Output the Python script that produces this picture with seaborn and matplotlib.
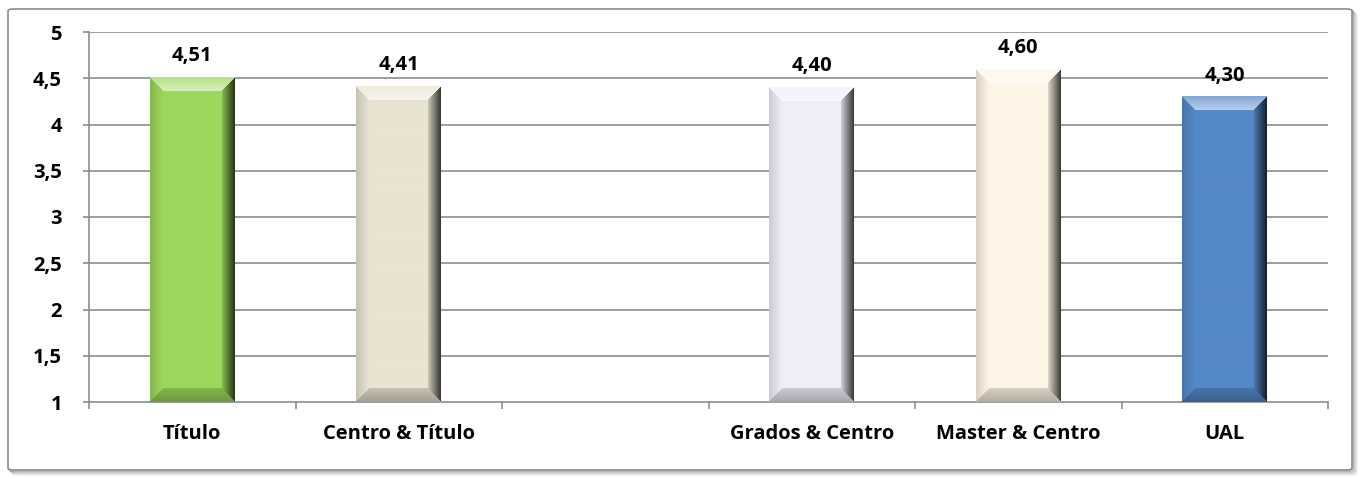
import numpy as np
import pandas as pd
import matplotlib
matplotlib.use("Agg")
import matplotlib.pyplot as plt
from matplotlib import font_manager as fm
from matplotlib.colors import to_rgb
from matplotlib.patches import FancyBboxPatch
import seaborn as sns

# Survey means by comparison group (third slot intentionally left blank)
categories = ["Título", "Centro & Título", " ", "Grados & Centro", "Master & Centro", "UAL"]
values = [4.51, 4.41, np.nan, 4.40, 4.60, 4.30]
bar_colors = ["#9BD75A", "#E8E4D1", "#EEEAE0", "#F1EDF8", "#FFF5E6", "#5588C8"]
y_ticks = [1, 1.5, 2, 2.5, 3, 3.5, 4, 4.5, 5]

sns.set_theme(style="white")
plt.rcParams["font.family"] = ["Open Sans", "DejaVu Sans"]

TXT = 14.5
FP = fm.FontProperties(family=["Open Sans", "DejaVu Sans"], weight="bold", size=TXT)

W_PX, H_PX, DPI = 1363, 479, 100
fig = plt.figure(figsize=(W_PX / DPI, H_PX / DPI), dpi=DPI)
fig.patch.set_facecolor("white")

# Outer chart frame with a soft drop shadow
for i, a in enumerate([0.05, 0.08, 0.12, 0.18, 0.25]):
    off = (5 - i) / W_PX
    offy = (5 - i) / H_PX
    fig.patches.append(FancyBboxPatch((8 / W_PX + off, 9 / H_PX - offy),
                                      1344 / W_PX, 461 / H_PX,
                                      boxstyle="round,pad=0,rounding_size=0.004",
                                      transform=fig.transFigure, facecolor="none",
                                      edgecolor=(0.3, 0.3, 0.3, a), linewidth=1.6,
                                      zorder=-3))
fig.patches.append(FancyBboxPatch((8 / W_PX, 9 / H_PX), 1344 / W_PX, 461 / H_PX,
                                  boxstyle="round,pad=0,rounding_size=0.004",
                                  transform=fig.transFigure, facecolor="white",
                                  edgecolor="#8C8C8C", linewidth=1.2, zorder=-2))

ax = fig.add_axes([89 / W_PX, 1 - 402 / H_PX, (1328 - 89) / W_PX, (402 - 32) / H_PX])
ax.set_facecolor("none")

df = pd.DataFrame({"cat": categories, "val": values})
sns.barplot(data=df, x="cat", y="val", hue="cat", palette=bar_colors, legend=False,
            width=0.41, ax=ax, zorder=2, saturation=1, edgecolor="none")

ax.set_ylim(1, 5)
ax.set_xlim(-0.5, len(categories) - 0.5)
ax.set_yticks(y_ticks)
ax.set_yticklabels([f"{t:g}".replace(".", ",") for t in y_ticks])
ax.set_xlabel("")
ax.set_ylabel("")

grid_c = "#8C8C8C"
for t in y_ticks[1:]:
    ax.axhline(t, color=grid_c, lw=1.2, zorder=1)

for side in ["top", "right"]:
    ax.spines[side].set_visible(False)
for side in ["left", "bottom"]:
    ax.spines[side].set_color(grid_c)
    ax.spines[side].set_linewidth(1.2)

ax.tick_params(axis="y", which="major", direction="out", length=4.5, width=1.2,
               color=grid_c, pad=15, left=True)
ax.tick_params(axis="x", which="major", length=0, pad=15.5)
ax.set_xticks(np.arange(-0.5, len(categories), 1.0), minor=True)
ax.tick_params(axis="x", which="minor", direction="out", length=5, width=1.2,
               color=grid_c, bottom=True)
for lab in ax.get_xticklabels() + ax.get_yticklabels():
    lab.set_fontproperties(FP)
    lab.set_color("black")

# Bevelled shading drawn over each bar
fig.canvas.draw()
px_per_x = ax.transData.transform((1, 0))[0] - ax.transData.transform((0, 0))[0]
px_per_y = ax.transData.transform((0, 1))[1] - ax.transData.transform((0, 0))[1]


def bevel_image(color, wpx, hpx, bx=13, by=14):
    base = np.array(to_rgb(color))
    u = (np.arange(wpx) + 0.5)[None, :].repeat(hpx, 0)
    v = (np.arange(hpx) + 0.5)[:, None].repeat(wpx, 1)
    dl, dr = u / bx, (wpx - u) / bx
    dt, db = v / by, (hpx - v) / by
    d = np.stack([dt, dl, dr, db])
    region = d.argmin(0)
    dmin = d.min(0)
    inside = dmin < 1.0
    img = np.repeat(base[None, None, :], hpx, 0).repeat(wpx, 1).copy()
    white = np.ones(3)
    black = np.zeros(3)
    # top bevel: light highlight band
    m = inside & (region == 0)
    f = 0.25 + 0.35 * dt
    img[m] = base * (1 - f[m, None]) + white * f[m, None]
    # left bevel: slightly darker edge
    m = inside & (region == 1)
    f = 0.15 * (1 - dl)
    img[m] = base * (1 - f[m, None]) + black * f[m, None]
    # right bevel: strong darkening toward the edge
    m = inside & (region == 2)
    f = 0.12 + 0.65 * (1 - dr)
    img[m] = base * (1 - f[m, None]) + black * f[m, None]
    # bottom bevel: darker band
    m = inside & (region == 3)
    f = 0.15 + 0.15 * (1 - db)
    img[m] = base * (1 - f[m, None]) + black * f[m, None]
    return np.clip(img, 0, 1)


ymin = ax.get_ylim()[0]
for patch in ax.patches:
    x0, w, top = patch.get_x(), patch.get_width(), patch.get_height()
    if not np.isfinite(top) or w <= 0:
        continue
    idx = int(round(x0 + w / 2))
    color = bar_colors[idx]
    bot = max(patch.get_y(), ymin)
    wpx = int(round(w * px_per_x))
    hpx = int(round((top - bot) * px_per_y))
    if hpx <= 0:
        continue
    img = bevel_image(color, wpx, hpx)
    ax.imshow(img, extent=(x0, x0 + w, bot, top), aspect="auto", zorder=3,
              interpolation="bilinear")

ax.set_xlim(-0.5, len(categories) - 0.5)
ax.set_ylim(1, 5)

# Value labels above bars
for i, v in enumerate(values):
    if np.isnan(v):
        continue
    ax.annotate(f"{v:.2f}".replace(".", ","), xy=(i, v), xytext=(0, 8),
                textcoords="offset points", ha="center", va="bottom",
                fontproperties=FP, color="black", zorder=5)

fig.savefig("out.png", dpi=DPI, facecolor="white")
